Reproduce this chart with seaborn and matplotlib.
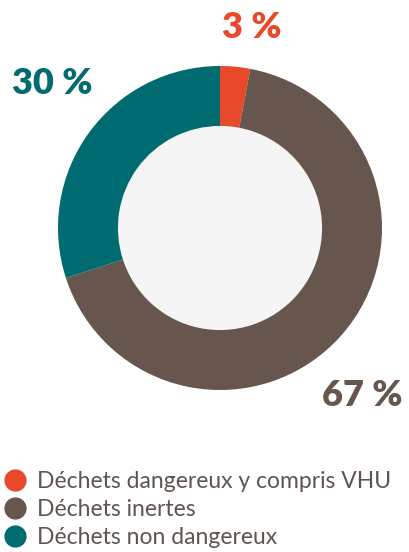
import matplotlib
matplotlib.use("Agg")
import matplotlib.pyplot as plt
from matplotlib.lines import Line2D
import seaborn as sns

# DATA
categories = ["Déchets dangereux y compris VHU", "Déchets inertes", "Déchets non dangereux"]
shares = [3, 67, 30]
labels = ["3 %", "67 %", "30 %"]
colors = ["#E8492A", "#67564E", "#006B70"]

sns.set_theme(style="white")
plt.rcParams["font.family"] = ["Lato", "DejaVu Sans"]

W, H = 410, 552
fig = plt.figure(figsize=(W / 100, H / 100), dpi=100)
fig.patch.set_facecolor("white")

# donut: centre (220, 228) px, outer radius 162 px
cx, cy, r = 220, 228, 162
ax = fig.add_axes([(cx - r) / W, 1 - (cy + r) / H, 2 * r / W, 2 * r / H])
ax.pie(shares, colors=colors, startangle=90, counterclock=False, radius=1,
       wedgeprops=dict(width=0.37, linewidth=0))
ax.add_patch(plt.Circle((0, 0), 0.63, color="#F5F5F5", zorder=0))
ax.set_xlim(-1, 1)
ax.set_ylim(-1, 1)
ax.set_aspect("equal")
ax.axis("off")

# percentage labels
label_pos = [(252, 28), (362, 395), (52, 83)]
for (x, y), txt, c in zip(label_pos, labels, colors):
    fig.text(x / W, 1 - y / H, txt, color=c, fontsize=26, fontweight="heavy",
             ha="center", va="center")

# legend
handles = [Line2D([0], [0], marker="o", linestyle="", markersize=16,
                  markerfacecolor=c, markeredgewidth=0) for c in colors]
leg = fig.legend(handles, categories, loc="upper left",
                 bbox_to_anchor=(6 / W, 1 - 471 / H), frameon=False,
                 fontsize=16.5, handlelength=0.8, handletextpad=0.55,
                 labelspacing=0.31, borderpad=0, borderaxespad=0)
for t in leg.get_texts():
    t.set_color("#5F5450")

fig.savefig("out.png", dpi=100, facecolor="white")
